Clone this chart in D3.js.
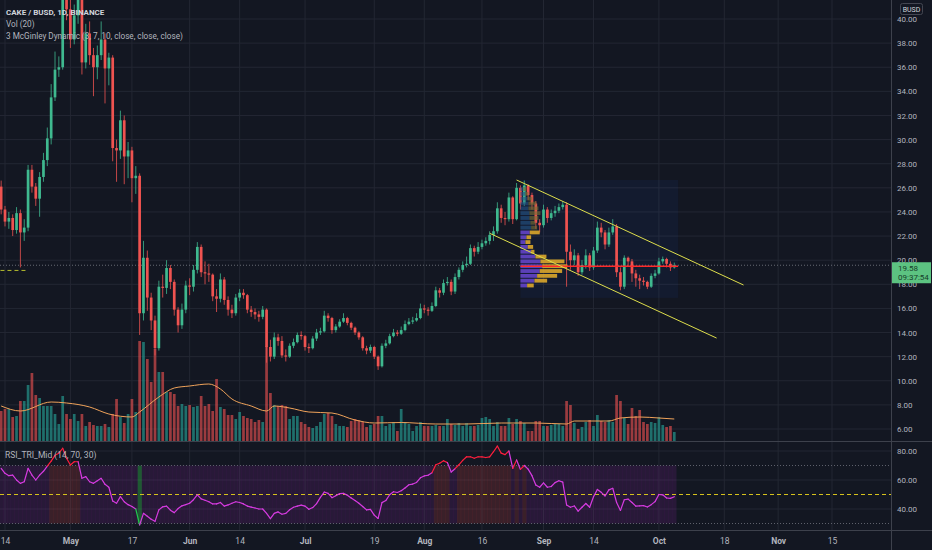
<!DOCTYPE html>
<html>
<head>
<meta charset="utf-8">
<title>CAKE / BUSD</title>
<script src="https://d3js.org/d3.v7.min.js"></script>
<style>
  html, body { margin: 0; padding: 0; background: #131722; }
  svg { display: block; font-family: Roboto, "Liberation Sans", sans-serif; }
</style>
</head>
<body>
<svg id="viz" width="932" height="550"></svg>
<script>
// daily candles from 2021-04-13 to 2021-10-05, open = previous close
const firstDay = "2021-04-13"
const firstOpen = 26.1
const closes = [
  24.2, 23.2, 23.5, 22.5, 23.9, 22.3, 22.7, 27.5, 26.1, 25.1,
  26.9, 28.3, 30.1, 33.5, 35.8, 36.0, 42.5, 40.8, 38.3, 40.3,
  41.8, 36.4, 38.8, 37.0, 36.0, 37.0, 38.3, 35.9, 36.8, 29.3,
  29.1, 31.6, 28.6, 29.1, 26.8, 27.0, 15.6, 20.2, 16.9, 15.0,
  12.7, 17.8, 17.7, 19.35, 18.2, 15.9, 14.6, 15.9, 17.9, 17.8,
  19.2, 21.1, 19.0, 18.9, 18.8, 17.0, 16.8, 18.4, 16.7, 15.9,
  15.6, 16.9, 17.3, 17.1, 15.9, 15.7, 15.5, 15.3, 15.9, 12.8,
  12.0, 13.6, 13.3, 12.1, 12.0, 12.9, 13.2, 13.8, 13.7, 12.8,
  12.7, 13.5, 14.0, 14.1, 15.4, 15.2, 14.2, 14.5, 14.9, 15.2,
  14.8, 14.4, 14.0, 13.6, 12.7, 12.5, 12.8, 12.0, 11.2, 12.9,
  13.1, 13.7, 14.0, 13.9, 14.2, 14.7, 14.9, 15.0, 15.2, 16.0,
  15.9, 15.8, 16.2, 17.5, 17.3, 18.1, 18.2, 17.4, 18.6, 19.2,
  19.6, 19.7, 21.0, 20.7, 21.1, 21.4, 21.6, 22.1, 22.4, 24.3,
  23.5, 23.4, 25.2, 23.4, 26.0, 24.7, 26.2, 25.4, 24.7, 23.1,
  22.9, 24.2, 23.5, 23.9, 24.1, 24.4, 24.6, 20.7, 20.0, 20.4,
  19.0, 19.6, 20.4, 19.4, 20.8, 22.7, 22.3, 21.3, 22.3, 22.8,
  19.0, 17.8, 20.2, 19.9, 18.9, 18.5, 18.3, 18.2, 17.8, 18.7,
  18.9, 19.9, 20.1, 19.7, 19.4, 19.58
]
const highs = [
  26.6, 24.5, 24.0, 23.8, 24.4, 24.2, 23.4, 27.9, 27.9, 26.4,
  27.3, 28.9, 31.0, 34.6, 37.3, 36.9, 43.5, 44.2, 41.6, 41.2,
  42.8, 42.2, 39.6, 39.8, 37.6, 37.8, 39.8, 38.8, 37.2, 37.0,
  30.0, 32.4, 32.0, 29.8, 29.4, 27.8, 27.2, 21.6, 20.8, 17.3,
  15.4, 18.3, 18.8, 20.0, 19.6, 18.4, 16.1, 16.4, 18.3, 18.5,
  19.6, 21.5, 21.3, 19.9, 19.7, 18.9, 17.6, 18.9, 18.6, 17.0,
  16.3, 17.2, 17.6, 17.6, 17.2, 16.2, 16.0, 15.8, 16.2, 16.0,
  13.4, 14.0, 13.9, 13.7, 12.6, 13.1, 13.5, 14.0, 14.1, 13.8,
  13.1, 13.7, 14.3, 14.4, 15.8, 15.6, 15.3, 14.7, 15.1, 15.6,
  15.3, 14.9, 14.5, 14.1, 13.7, 12.9, 13.0, 12.9, 12.1, 13.1,
  13.4, 13.9, 14.3, 14.2, 14.5, 15.0, 15.2, 15.3, 15.6, 16.4,
  16.3, 16.1, 16.5, 17.8, 17.7, 18.4, 18.6, 18.4, 18.9, 19.4,
  19.9, 20.3, 21.3, 21.2, 21.5, 21.7, 21.9, 22.4, 22.8, 24.8,
  24.6, 24.0, 25.6, 25.3, 26.4, 26.2, 26.6, 26.3, 25.6, 24.9,
  23.4, 24.6, 24.4, 24.2, 24.5, 24.7, 24.9, 24.8, 21.3, 20.9,
  20.6, 20.0, 20.9, 20.6, 21.1, 23.2, 23.1, 22.5, 22.7, 23.4,
  23.0, 19.4, 20.4, 20.3, 20.1, 19.2, 18.8, 18.6, 18.3, 18.9,
  19.2, 20.2, 20.3, 20.2, 19.9, 19.8
]
const lows = [
  23.8, 22.8, 22.6, 22.0, 22.2, 19.4, 21.6, 22.4, 25.6, 24.5,
  23.6, 26.5, 27.8, 29.6, 33.2, 35.2, 35.8, 39.9, 37.6, 37.9,
  39.6, 35.4, 35.9, 36.2, 33.6, 35.0, 36.6, 33.0, 34.5, 28.2,
  26.5, 28.4, 26.3, 26.8, 24.8, 25.5, 13.8, 15.0, 15.8, 14.2,
  12.1, 12.5, 16.9, 17.2, 17.6, 15.4, 14.0, 14.3, 15.6, 17.1,
  17.4, 18.9, 18.6, 18.0, 18.2, 16.6, 15.7, 16.5, 16.3, 15.4,
  15.2, 15.4, 16.6, 16.8, 15.6, 15.3, 15.1, 14.9, 15.1, 11.5,
  11.6, 11.8, 12.9, 11.9, 11.6, 11.9, 12.7, 13.1, 13.4, 12.5,
  12.3, 12.6, 13.3, 13.8, 14.0, 14.9, 13.9, 14.0, 14.4, 14.8,
  14.6, 14.2, 13.8, 13.4, 12.5, 12.2, 12.3, 11.8, 10.9, 11.1,
  12.7, 13.0, 13.6, 13.7, 13.8, 14.1, 14.6, 14.7, 14.9, 15.1,
  15.6, 15.4, 15.7, 16.1, 16.9, 17.1, 17.9, 17.1, 17.2, 18.4,
  19.0, 19.4, 19.6, 20.3, 20.5, 20.9, 21.2, 21.3, 21.6, 22.2,
  23.1, 22.9, 23.2, 23.0, 23.3, 24.2, 24.5, 25.0, 24.2, 22.6,
  22.3, 22.7, 23.1, 23.3, 23.6, 23.9, 24.2, 17.8, 19.2, 19.6,
  18.7, 18.8, 19.3, 19.1, 19.2, 20.6, 21.9, 20.9, 21.1, 22.1,
  18.6, 17.5, 17.6, 19.5, 18.2, 17.8, 17.6, 17.9, 17.6, 17.7,
  18.5, 18.8, 19.7, 19.4, 19.1, 19.3
]
// volume, millions of CAKE
const volumes = [
  3.0, 3.2, 3.2, 2.4, 2.5, 4.0, 4.0, 5.6, 6.8, 4.6,
  4.3, 3.5, 3.5, 3.5, 2.7, 1.7, 4.5, 2.7, 2.2, 2.7,
  2.0, 2.7, 1.5, 1.9, 1.6, 1.5, 1.5, 1.7, 1.4, 2.7,
  4.2, 2.4, 1.8, 2.7, 4.2, 2.9, 10.0, 9.9, 8.2, 5.9,
  9.2, 6.9, 6.9, 4.9, 4.9, 4.7, 3.5, 3.7, 3.5, 3.6,
  3.4, 3.5, 4.5, 3.5, 3.7, 3.0, 6.2, 3.4, 3.2, 2.6,
  2.6, 2.2, 2.9, 2.5, 2.3, 2.2, 1.9, 2.1, 1.9, 9.5,
  4.8, 3.6, 3.5, 3.6, 3.5, 2.2, 2.5, 2.5, 1.9, 1.7,
  1.4, 1.3, 1.5, 1.9, 2.7, 2.8, 2.5, 1.7, 1.5, 1.5,
  1.4, 2.0, 2.2, 2.1, 1.9, 1.4, 1.6, 1.7, 2.5, 2.5,
  1.5, 1.7, 1.9, 1.0, 3.2, 1.9, 1.7, 1.0, 1.5, 1.9,
  1.5, 1.5, 1.5, 1.6, 1.5, 1.5, 2.2, 1.7, 1.6, 1.8,
  1.5, 1.8, 1.5, 1.5, 1.6, 2.3, 2.4, 2.2, 1.5, 1.9,
  1.5, 1.5, 2.3, 1.7, 2.2, 2.0, 1.8, 1.0, 1.0, 2.0,
  2.0, 1.5, 1.5, 1.6, 1.7, 1.7, 1.5, 4.0, 3.6, 1.8,
  1.2, 1.4, 1.9, 2.1, 1.5, 2.6, 2.0, 1.9, 2.1, 1.9,
  4.6, 4.0, 2.3, 1.7, 3.3, 2.5, 3.1, 1.9, 1.7, 1.9,
  1.8, 2.4, 1.6, 1.4, 1.5, 0.9
]
// Vol (20) moving average, read at a few dates
const volMaDates = ["2021-04-13", "2021-04-18", "2021-04-26", "2021-04-30", "2021-05-06", "2021-05-11",
  "2021-05-17", "2021-05-19", "2021-05-24", "2021-05-28", "2021-06-01", "2021-06-06", "2021-06-09",
  "2021-06-12", "2021-06-17", "2021-06-21", "2021-06-23", "2021-06-27", "2021-07-02", "2021-07-08",
  "2021-07-14", "2021-07-19", "2021-07-26", "2021-08-04", "2021-08-12", "2021-08-21", "2021-08-30",
  "2021-09-07", "2021-09-09", "2021-09-18", "2021-09-21", "2021-09-26", "2021-10-01", "2021-10-05"]
const volMaValues = [3.5, 3.0, 3.9, 3.8, 3.4, 2.7, 2.4, 2.9, 4.4, 5.3, 5.5, 5.7, 5.2, 4.2, 3.5, 3.0,
  3.5, 3.3, 2.9, 2.8, 2.1, 1.8, 1.85, 1.7, 1.7, 1.8, 1.8, 1.7, 2.0, 2.0, 2.3, 2.4, 2.3, 2.2]
// RSI_TRI_Mid (14)
const rsiValues = [
  68, 64.6, 63, 63.4, 60, 57.7, 58.8, 68, 63.4, 60,
  63.4, 66, 69.5, 73, 77, 78.5, 81.9, 75, 70.3, 72.6,
  72.6, 61.2, 62.3, 58.8, 57.7, 59.5, 61.2, 57, 55, 45.5,
  44, 48.5, 45, 43, 41.7, 40, 29, 37, 35, 33,
  31.5, 39.4, 41.5, 42, 39.2, 37.5, 40.3, 42.2, 43, 44,
  46.4, 49.7, 47, 46, 45, 43.5, 43.5, 44.5, 42, 42.8,
  44, 45, 44.5, 43.5, 42, 41.3, 40.7, 40, 40, 37,
  33.3, 37, 38, 36.4, 37, 39.5, 41.2, 42, 42.7, 42,
  39.8, 41, 43.7, 48, 51.7, 50.8, 47.8, 49.2, 50.6, 50.8,
  49.5, 47.6, 45.8, 44, 41.7, 39.4, 39.7, 35.8, 33.5, 44.4,
  45.8, 49.8, 51.9, 51.4, 52.6, 54.5, 56.7, 57.2, 58.3, 61.5,
  62.8, 63.3, 65, 70.5, 71.6, 73.3, 72, 65.5, 67.8, 70.5,
  73.5, 76, 76, 75, 76, 76, 75.5, 76, 79.5, 83.4,
  78.5, 77.5, 80, 68, 73.8, 67.3, 70, 67.5, 63, 56.5,
  55, 58, 55, 55.5, 58.2, 59.5, 58.5, 42.8, 41.2, 42.1,
  38.5, 41.2, 43.8, 41.2, 48.5, 53.5, 51.5, 49, 53.2, 54.3,
  44.5, 39, 46.4, 46.8, 44.5, 42, 42.2, 42.3, 41.4, 43,
  45.1, 50, 49.8, 47.6, 47.3, 48.5
]
const rsiUpper = 70, rsiLower = 30, rsiMid = 50

// fixed range volume profile, rows of 0.4 BUSD
const profileStart = "2021-08-26", profileEnd = "2021-10-06"
const profileRowSize = 0.4
const profileRowLows = [17.7, 18.1, 18.5, 18.9, 19.3, 19.7, 20.1, 20.5, 20.9, 21.3, 21.7,
  22.1, 22.5, 22.9, 23.3, 23.7, 24.1, 24.5, 24.9, 25.3, 25.7]
const profileUp = [6.7, 14, 16.7, 19.3, 21.7, 20, 15, 10.7, 7.3, 5, 6, 9.3, 10.7, 10, 9, 9, 8, 8, 7, 5, 3]
const profileDown = [6.6, 12.7, 20, 22.4, 25, 24, 11, 3.3, 5.4, 5, 4.7, 10, 6, 5, 9, 11, 10, 8, 5, 3, 3]
const valueArea = [17.7, 22.5]
const pocPrice = 19.5
const profileBox = [16.87, 26.65]

// drawn channel and ray
const upperLine = [["2021-08-25", 26.65], ["2021-10-23", 17.94]]
const lowerLine = [["2021-08-18", 22.23], ["2021-10-16", 13.54]]
const leftRay = [["2021-04-11", 19.15], ["2021-04-20", 19.15]]

const lastPrice = 19.58
const countdown = "09:37:54"
const dateTicks = ["2021-04-14", "2021-05-01", "2021-05-17", "2021-06-01", "2021-06-14", "2021-07-01",
  "2021-07-19", "2021-08-01", "2021-08-16", "2021-09-01", "2021-09-14", "2021-10-01", "2021-10-18",
  "2021-11-01", "2021-11-15"]
const rsiTicks = [40, 60, 80]

const parseDate = d3.utcParse("%Y-%m-%d")
const startDate = parseDate(firstDay)
const candles = closes.map((c, i) => ({
  date: d3.utcDay.offset(startDate, i),
  open: i === 0 ? firstOpen : closes[i - 1],
  close: c, high: highs[i], low: lows[i],
  volume: volumes[i], rsi: rsiValues[i]
}))

const upColor = "#3fb98f", downColor = "#ef5350"
const gridColor = "#232733", sepColor = "#3d414c", textColor = "#b2b5be"
const plotRight = 891
const mainBottom = 441, rsiTop = 442, rsiBottom = 530

const x = d3.scaleUtc()
  .domain([parseDate("2021-04-14"), parseDate("2021-11-15")])
  .range([5, 832])
const y = d3.scaleLinear().domain([6, 40]).range([429, 19])
const yVol = d3.scaleLinear().domain([0, 10]).range([mainBottom, mainBottom - 100])
const yRsi = d3.scaleLinear().domain([40, 80]).range([509, 451])
const day = x(d3.utcDay.offset(startDate, 1)) - x(startDate)
const bodyW = 2.7

const svg = d3.select("#viz")
svg.append("rect").attr("width", 932).attr("height", 550).attr("fill", "#131722")

const defs = svg.append("defs")
defs.append("clipPath").attr("id", "clip-main")
  .append("rect").attr("x", 0).attr("y", 0).attr("width", plotRight).attr("height", mainBottom)
defs.append("clipPath").attr("id", "clip-rsi")
  .append("rect").attr("x", 0).attr("y", rsiTop).attr("width", plotRight).attr("height", rsiBottom - rsiTop)

// grid
const grid = svg.append("g")
grid.selectAll(".hgrid").data(y.ticks(17)).enter().append("line")
  .attr("x1", 0).attr("x2", plotRight)
  .attr("y1", d => y(d)).attr("y2", d => y(d))
  .attr("stroke", gridColor)
grid.selectAll(".vgrid").data(dateTicks).enter().append("line")
  .attr("x1", d => x(parseDate(d))).attr("x2", d => x(parseDate(d)))
  .attr("y1", 0).attr("y2", rsiBottom)
  .attr("stroke", gridColor)

const main = svg.append("g").attr("clip-path", "url(#clip-main)")

// fixed range box
main.append("rect")
  .attr("x", x(parseDate(profileStart)))
  .attr("width", x(parseDate(profileEnd)) - x(parseDate(profileStart)))
  .attr("y", y(profileBox[1]))
  .attr("height", y(profileBox[0]) - y(profileBox[1]))
  .attr("fill", "#2962ff").attr("opacity", 0.06)

// volume bars
main.selectAll(".vol").data(candles).enter().append("rect")
  .attr("x", d => x(d.date) - bodyW / 2)
  .attr("width", bodyW)
  .attr("y", d => yVol(d.volume))
  .attr("height", d => yVol(0) - yVol(d.volume))
  .attr("fill", d => d.close >= d.open ? "#26a69a" : downColor)
  .attr("opacity", 0.62)

// volume MA
main.append("path")
  .datum(volMaDates.map((d, i) => [parseDate(d), volMaValues[i]]))
  .attr("d", d3.line().x(d => x(d[0])).y(d => yVol(d[1])).curve(d3.curveMonotoneX))
  .attr("fill", "none").attr("stroke", "#f0a35a").attr("stroke-width", 1)

// last price line
main.append("line")
  .attr("x1", 0).attr("x2", plotRight)
  .attr("y1", y(lastPrice)).attr("y2", y(lastPrice))
  .attr("stroke", "#8a8d96").attr("stroke-dasharray", "1,2").attr("opacity", 0.7)

// candles
const candleG = main.selectAll(".candle").data(candles).enter().append("g")
candleG.append("line")
  .attr("x1", d => x(d.date)).attr("x2", d => x(d.date))
  .attr("y1", d => y(d.high)).attr("y2", d => y(d.low))
  .attr("stroke", d => d.close >= d.open ? upColor : downColor)
  .attr("stroke-width", 0.8)
candleG.append("rect")
  .attr("x", d => x(d.date) - bodyW / 2)
  .attr("width", bodyW)
  .attr("y", d => y(Math.max(d.open, d.close)))
  .attr("height", d => Math.max(1, Math.abs(y(d.open) - y(d.close))))
  .attr("fill", d => d.close >= d.open ? upColor : downColor)

// volume profile
const px0 = x(parseDate(profileStart))
const wScale = d3.scaleLinear().domain([0, 50]).range([0, 50])
const rows = profileRowLows.map((low, i) => ({ low, up: profileUp[i], down: profileDown[i],
  inVA: low < valueArea[1] && low >= valueArea[0] }))
const rowG = main.selectAll(".prow").data(rows).enter().append("g")
rowG.append("rect")
  .attr("x", px0)
  .attr("y", d => y(d.low + profileRowSize) + 0.5)
  .attr("height", d => y(d.low) - y(d.low + profileRowSize) - 1)
  .attr("width", d => wScale(d.up))
  .attr("fill", d => d.inVA ? "#6445c8" : "#245283")
  .attr("opacity", d => d.inVA ? 0.9 : 0.65)
rowG.append("rect")
  .attr("x", d => px0 + wScale(d.up))
  .attr("y", d => y(d.low + profileRowSize) + 0.5)
  .attr("height", d => y(d.low) - y(d.low + profileRowSize) - 1)
  .attr("width", d => wScale(d.down))
  .attr("fill", d => d.inVA ? "#dba72b" : "#756c34")
  .attr("opacity", d => d.inVA ? 0.9 : 0.65)
main.append("line")
  .attr("x1", px0).attr("x2", x(parseDate(profileEnd)))
  .attr("y1", y(pocPrice)).attr("y2", y(pocPrice))
  .attr("stroke", "#ff2a2a").attr("stroke-width", 1.5)

// channel
const segLine = d3.line().x(d => x(parseDate(d[0]))).y(d => y(d[1]))
main.selectAll(".trend").data([upperLine, lowerLine]).enter().append("path")
  .attr("d", segLine)
  .attr("stroke", "#dede4c").attr("stroke-width", 1).attr("fill", "none")
main.append("path").attr("d", segLine(leftRay))
  .attr("stroke", "#b5bd2e").attr("stroke-dasharray", "4,3").attr("fill", "none")

// RSI pane
const rsiG = svg.append("g").attr("clip-path", "url(#clip-rsi)")
rsiG.selectAll(".rgrid").data(rsiTicks).enter().append("line")
  .attr("x1", 0).attr("x2", plotRight)
  .attr("y1", d => yRsi(d)).attr("y2", d => yRsi(d))
  .attr("stroke", gridColor)
rsiG.selectAll(".band").data(candles).enter().append("rect")
  .attr("x", d => x(d.date) - day / 2)
  .attr("width", day + 0.3)
  .attr("y", yRsi(rsiUpper))
  .attr("height", yRsi(rsiLower) - yRsi(rsiUpper))
  .attr("fill", d => d.rsi >= rsiUpper ? "#ff4d4d" : d.rsi <= rsiLower ? "#2fbf4a" : "#9c27b0")
  .attr("opacity", d => d.rsi >= rsiUpper ? 0.17 : d.rsi <= rsiLower ? 0.4 : 0.16)
rsiG.selectAll(".lvl").data([rsiUpper, rsiLower]).enter().append("line")
  .attr("x1", 0).attr("x2", plotRight)
  .attr("y1", d => yRsi(d)).attr("y2", d => yRsi(d))
  .attr("stroke", "#5d606b").attr("stroke-dasharray", "1,2")
rsiG.append("line")
  .attr("x1", 0).attr("x2", plotRight)
  .attr("y1", yRsi(rsiMid)).attr("y2", yRsi(rsiMid))
  .attr("stroke", "#d6c21c").attr("stroke-dasharray", "4,3")
rsiG.selectAll(".rsiseg").data(d3.pairs(candles)).enter().append("line")
  .attr("x1", d => x(d[0].date)).attr("y1", d => yRsi(d[0].rsi))
  .attr("x2", d => x(d[1].date)).attr("y2", d => yRsi(d[1].rsi))
  .attr("stroke", d => d[1].rsi >= rsiUpper ? "#ff1f3d" : d[1].rsi <= rsiLower ? "#22c84e" : "#d63be0")
  .attr("stroke-width", 1.2).attr("stroke-linecap", "round")

// separators
svg.append("line").attr("x1", plotRight + 0.5).attr("x2", plotRight + 0.5)
  .attr("y1", 0).attr("y2", 550).attr("stroke", sepColor)
svg.selectAll(".hsep").data([mainBottom + 0.5, rsiBottom + 0.5]).enter().append("line")
  .attr("x1", 0).attr("x2", 932).attr("y1", d => d).attr("y2", d => d)
  .attr("stroke", sepColor)

// price axis
const ly = y(lastPrice)
const priceAxis = svg.append("g").attr("transform", `translate(${plotRight},0)`)
  .call(d3.axisRight(y).ticks(17).tickSize(0).tickPadding(6).tickFormat(d3.format(".2f")))
priceAxis.select(".domain").remove()
priceAxis.selectAll("text").attr("fill", textColor).attr("font-size", 8)
  .attr("font-family", "Roboto, sans-serif")

const rsiAxis = svg.append("g").attr("transform", `translate(${plotRight},0)`)
  .call(d3.axisRight(yRsi).tickValues(rsiTicks).tickSize(0).tickPadding(6).tickFormat(d3.format(".2f")))
rsiAxis.select(".domain").remove()
rsiAxis.selectAll("text").attr("fill", textColor).attr("font-size", 8)
  .attr("font-family", "Roboto, sans-serif")

// time axis
const monthFmt = d3.utcFormat("%b"), dayFmt = d3.utcFormat("%-d")
const isMonth = d => d.getUTCDate() === 1
const timeAxis = svg.append("g").attr("transform", `translate(0,${rsiBottom})`)
  .call(d3.axisBottom(x).tickValues(dateTicks.map(parseDate)).tickSize(0).tickPadding(8)
    .tickFormat(d => isMonth(d) ? monthFmt(d) : dayFmt(d)))
timeAxis.select(".domain").remove()
timeAxis.selectAll("text").attr("fill", textColor).attr("font-size", 8.5)
  .attr("font-family", "Roboto, sans-serif")
  .attr("font-weight", d => isMonth(d) ? "bold" : "normal")

// BUSD label
svg.append("rect").attr("x", 900.5).attr("y", 3.5).attr("width", 22).attr("height", 11)
  .attr("fill", "#131722").attr("stroke", "#434651").attr("rx", 2)
svg.append("text").attr("x", 911.5).attr("y", 11.8).attr("text-anchor", "middle")
  .attr("font-size", 7).attr("fill", "#d1d4dc").text("BUSD")

// last price label, drawn over the 20.00 tick as in the original
svg.append("rect").attr("x", plotRight + 1).attr("y", ly - 3).attr("width", 39).attr("height", 21)
  .attr("fill", "#5cc381")
svg.append("text").attr("x", plotRight + 7).attr("y", ly + 5.5)
  .attr("font-size", 8).attr("fill", "#17402a").text(d3.format(".2f")(lastPrice))
svg.append("text").attr("x", plotRight + 7).attr("y", ly + 15)
  .attr("font-size", 8).attr("fill", "#17402a").text(countdown)

// legends
const legend = svg.append("g").attr("fill", "#d1d4dc").attr("font-size", 8.2)
legend.append("text").attr("x", 6).attr("y", 15).attr("font-weight", "bold").attr("font-size", 8)
  .text("CAKE / BUSD, 1D, BINANCE")
legend.append("text").attr("x", 6).attr("y", 27).attr("fill", textColor).text("Vol (20)")
legend.append("text").attr("x", 6).attr("y", 39).attr("fill", textColor)
  .text("3 McGinley Dynamic (3, 7, 10, close, close, close)")
svg.append("text").attr("x", 5).attr("y", 458).attr("font-size", 8.5).attr("fill", textColor)
  .text("RSI_TRI_Mid (14, 70, 30)")
</script>
</body>
</html>
